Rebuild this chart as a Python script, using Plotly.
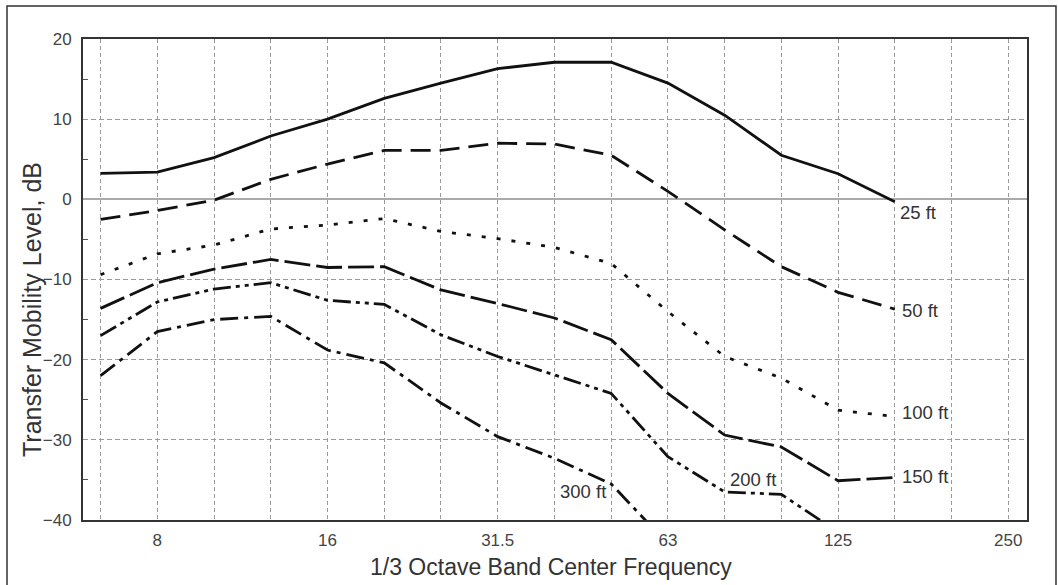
import plotly.graph_objects as go

freqs = ["6.3", "8", "10", "12.5", "16", "20", "25", "31.5", "40", "50",
         "63", "80", "100", "125", "160", "200", "250"]
tick_labels = ["", "8", "", "", "16", "", "", "31.5", "", "",
               "63", "", "", "125", "", "", "250"]

ft25 = [3.25, 3.4, 5.2, 7.9, 10.0, 12.6, 14.5, 16.3, 17.1, 17.1, 14.5, 10.5, 5.5, 3.2, -0.3]
ft50 = [-2.5, -1.4, -0.1, 2.5, 4.4, 6.1, 6.1, 7.0, 6.9, 5.5, 1.0, -3.8, -8.4, -11.6, -13.7]
ft100 = [-9.4, -6.8, -5.7, -3.7, -3.2, -2.4, -4.0, -4.9, -6.0, -8.0, -14.0, -19.6, -22.3, -26.3, -27.1]
ft150 = [-13.6, -10.4, -8.7, -7.5, -8.5, -8.4, -11.3, -13.0, -14.8, -17.5, -24.2, -29.4, -30.9, -35.1, -34.7]
ft200 = [-17.0, -12.8, -11.2, -10.4, -12.6, -13.1, -16.9, -19.6, -21.9, -24.2, -32.1, -36.5, -36.8, -41.5]
ft300 = [-22.0, -16.5, -15.0, -14.6, -18.8, -20.4, -25.4, -29.6, -32.3, -35.5, -43.0]

series = [
    ("25 ft", ft25, "solid"),
    ("50 ft", ft50, "20px,9px"),
    ("100 ft", ft100, "4px,11px"),
    ("150 ft", ft150, "26px,6px"),
    ("200 ft", ft200, "18px,5px,4px,5px,4px,5px"),
    ("300 ft", ft300, "18px,6px,4px,6px"),
]

FONT = "Liberation Sans, Arial, sans-serif"

fig = go.Figure()
for name, vals, dash in series:
    fig.add_trace(go.Scatter(
        x=freqs[:len(vals)], y=vals, mode="lines", name=name,
        line=dict(color="#111111", width=2.8, dash=dash),
        showlegend=False, hoverinfo="skip"))

# curve labels
label_pos = {
    "25 ft": (14.06, -1.6),
    "50 ft": (14.09, -13.9),
    "100 ft": (14.09, -26.6),
    "150 ft": (14.09, -34.6),
    "200 ft": (11.06, -34.9),
    "300 ft": (8.07, -36.5),
}
for name, (lx, ly) in label_pos.items():
    fig.add_annotation(x=lx, y=ly, xref="x", yref="y", text=name, showarrow=False,
                       xanchor="left", yanchor="middle",
                       font=dict(family=FONT, size=18.5, color="#333333"))

# axis titles
fig.add_annotation(x=0.4958, y=-0.097, xref="paper", yref="paper",
                   text="1/3 Octave Band Center Frequency", showarrow=False,
                   xanchor="center", yanchor="middle",
                   font=dict(family=FONT, size=23, color="#333333"))
fig.add_annotation(x=-0.0540, y=0.4366, xref="paper", yref="paper",
                   text="Transfer Mobility Level, dB", showarrow=False, textangle=-90,
                   xanchor="center", yanchor="middle",
                   font=dict(family=FONT, size=25, color="#333333"))

# outer frame
fig.add_shape(type="rect", xref="paper", yref="paper",
              x0=-0.0805, x1=1.0307, y0=-0.16, y1=1.0686,
              line=dict(color="#333333", width=1.5), layer="below")

fig.update_layout(
    width=1058, height=585,
    margin=dict(l=83, r=31, t=39, b=65),
    paper_bgcolor="white", plot_bgcolor="white",
    font=dict(family=FONT, color="#333333"),
    xaxis=dict(
        type="category", categoryorder="array", categoryarray=freqs,
        range=[-0.31, 16.33],
        tickmode="array", tickvals=freqs, ticktext=tick_labels,
        ticks="", tickfont=dict(size=17, color="#444444"), ticklabelstandoff=4,
        showgrid=True, gridcolor="#9a9a9a", gridwidth=1, griddash="4px,3px",
        showline=True, linecolor="#333333", linewidth=2, mirror=True,
    ),
    yaxis=dict(
        range=[-40, 20], tickmode="linear", tick0=-40, dtick=10,
        ticks="", tickfont=dict(size=17, color="#444444"), ticklabelstandoff=6,
        showgrid=True, gridcolor="#9a9a9a", gridwidth=1, griddash="5px,3px",
        zeroline=True, zerolinecolor="#aaaaaa", zerolinewidth=1.5,
        showline=True, linecolor="#333333", linewidth=2, mirror=True,
        minor=dict(dtick=5, tick0=-40, ticks="inside", ticklen=5,
                   tickcolor="#555555", showgrid=False),
    ),
)

fig.write_html("out.html")
